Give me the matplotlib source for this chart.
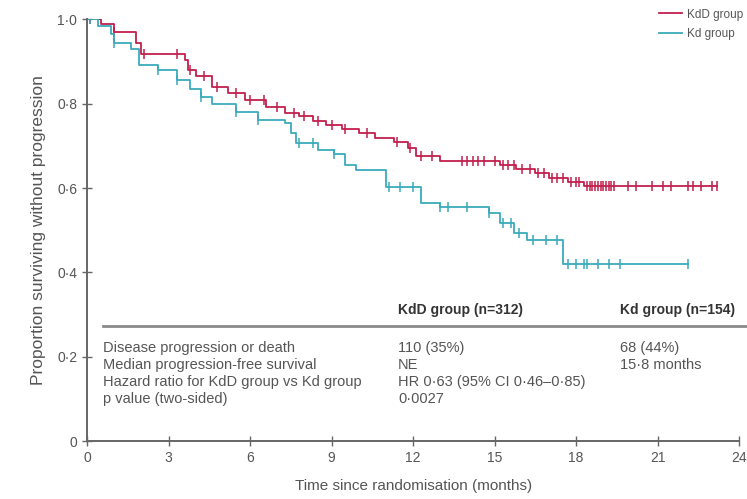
import numpy as np
import matplotlib
matplotlib.use("Agg")
import matplotlib.pyplot as plt

plt.rcParams['font.family'] = ['Liberation Sans Narrow', 'Liberation Sans', 'DejaVu Sans']

# Kaplan-Meier steps: time (months) and survival after each step
kdd_t = [0, 0.5, 1.0, 1.8, 2.0, 3.6, 3.7, 4.0, 4.6, 5.2, 5.8, 6.6, 7.3, 7.8, 8.3,
         8.8, 9.4, 10.0, 10.6, 11.3, 11.8, 12.1, 13.0, 15.2, 15.8, 16.5, 17.0,
         17.7, 18.3]
kdd_s = [1.0, 0.99, 0.97, 0.945, 0.917, 0.905, 0.88, 0.865, 0.84, 0.826, 0.81,
         0.793, 0.779, 0.77, 0.76, 0.75, 0.74, 0.73, 0.72, 0.71, 0.695, 0.675,
         0.665, 0.655, 0.645, 0.635, 0.625, 0.615, 0.605]
kdd_end = 23.2
kdd_cens = [0.1, 1.0, 2.1, 3.3, 3.8, 4.3, 4.8, 5.5, 6.0, 6.5, 7.0, 7.6, 8.0, 8.5,
            9.0, 9.5, 10.3, 11.4, 11.9, 12.3, 12.7, 13.8, 14.0, 14.2, 14.4, 14.6,
            15.0, 15.3, 15.5, 15.7, 16.0, 16.3, 16.6, 16.8, 17.1, 17.3, 17.5,
            17.8, 18.0, 18.1, 18.4, 18.5, 18.6, 18.7, 18.8, 18.9, 19.0, 19.1,
            19.2, 19.3, 19.4, 19.9, 20.2, 20.8, 21.2, 21.5, 22.1, 22.3, 22.6,
            23.0, 23.2]

kd_t = [0, 0.4, 0.9, 1.0, 1.6, 1.9, 2.6, 3.3, 3.8, 4.2, 4.6, 5.5, 6.3, 7.3, 7.5,
        7.7, 8.5, 9.1, 9.5, 9.9, 11.0, 12.3, 13.0, 14.8, 15.2, 15.7, 16.2, 17.5]
kd_s = [1.0, 0.985, 0.965, 0.945, 0.93, 0.893, 0.88, 0.857, 0.834, 0.817, 0.80,
        0.78, 0.762, 0.755, 0.73, 0.708, 0.69, 0.68, 0.656, 0.644, 0.603, 0.565,
        0.556, 0.54, 0.518, 0.494, 0.477, 0.42]
kd_end = 22.1
kd_cens = [0.1, 1.0, 2.6, 3.3, 4.2, 5.5, 6.3, 7.8, 8.3, 9.1, 11.1, 11.5, 12.0,
           13.0, 13.3, 14.0, 14.8, 15.3, 15.6, 15.9, 16.4, 16.9, 17.3, 17.7,
           18.0, 18.3, 18.4, 18.8, 19.2, 19.6, 22.1]

xticks = [0, 3, 6, 9, 12, 15, 18, 21, 24]
yticks = [0, 0.2, 0.4, 0.6, 0.8, 1.0]
ytick_labels = ["0", "0·2", "0·4", "0·6", "0·8", "1·0"]

row_labels = ["Disease progression or death", "Median progression-free survival",
              "Hazard ratio for KdD group vs Kd group", "p value (two-sided)"]
kdd_col = ["110 (35%)", "NE", "HR 0·63 (95% CI 0·46–0·85)", "0·0027"]
kd_col = ["68 (44%)", "15·8 months", "", ""]
headers = ["KdD group (n=312)", "Kd group (n=154)"]

RED = "#c21f4c"
TEAL = "#3aaabb"
GREY = "#555555"


def step_value(t, times, surv):
    i = np.searchsorted(times, t, side="right") - 1
    return np.asarray(surv)[i]


fig = plt.figure(figsize=(7.47, 4.99), dpi=100)
ax = fig.add_axes([0.1165, 0.116, 0.873, 0.845])

for times, surv, end, cens, col, lab in [
        (kdd_t, kdd_s, kdd_end, kdd_cens, RED, "KdD group"),
        (kd_t, kd_s, kd_end, kd_cens, TEAL, "Kd group")]:
    xs = list(times) + [end]
    ys = list(surv) + [surv[-1]]
    ax.step(xs, ys, where="post", color=col, lw=1.3, label=lab)
    cy = step_value(np.array(cens), times, surv)
    ax.plot(cens, cy, ls="none", marker="|", ms=7, mew=1.1, color=col)

ax.set_xlim(0, 24)
ax.set_ylim(0, 1.0)
ax.set_xticks(xticks)
ax.set_yticks(yticks)
ax.set_yticklabels(ytick_labels)
for s in ["top", "right"]:
    ax.spines[s].set_visible(False)
for s in ["left", "bottom"]:
    ax.spines[s].set_color("#666666")
    ax.spines[s].set_linewidth(1.4)
    ax.spines[s].set_clip_on(False)
ax.tick_params(direction="inout", length=7, width=1, colors="#666666",
               labelcolor=GREY, labelsize=10)
ax.set_xlabel("Time since randomisation (months)", color=GREY, fontsize=11, labelpad=10)
ax.set_ylabel("Proportion surviving without progression", color=GREY, fontsize=12.5, labelpad=8)

# summary table inside the plot area
ax.plot([0.6, 24.25], [0.273, 0.273], color="#8a8a8a", lw=2, clip_on=False)
ax.text(11.45, 0.311, headers[0], color="#333333", fontsize=10, fontweight="bold", va="center")
ax.text(19.6, 0.311, headers[1], color="#333333", fontsize=10, fontweight="bold", va="center")
row_y = [0.221, 0.18, 0.14, 0.10]
for y, lab, a, b in zip(row_y, row_labels, kdd_col, kd_col):
    ax.text(0.6, y, lab, color=GREY, fontsize=10.5, va="center")
    ax.text(11.45, y, a, color=GREY, fontsize=10.5, va="center")
    ax.text(19.6, y, b, color=GREY, fontsize=10.5, va="center")

leg = fig.legend(*ax.get_legend_handles_labels(), loc="upper right",
                 bbox_to_anchor=(1.0, 0.99), frameon=False, fontsize=8.5,
                 handlelength=2.0, handletextpad=0.4, labelspacing=0.65,
                 borderaxespad=0.1, borderpad=0.2)
for t in leg.get_texts():
    t.set_color(GREY)

fig.savefig("out.png", dpi=100)
